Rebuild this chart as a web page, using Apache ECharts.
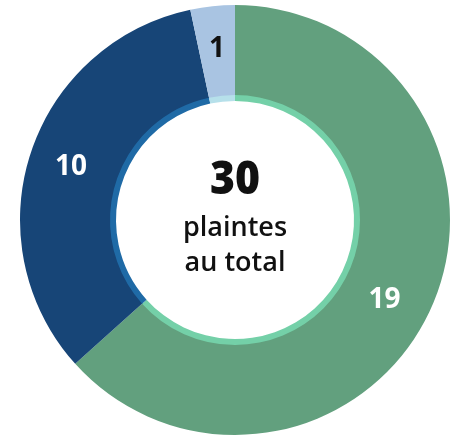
<!DOCTYPE html>
<html>
<head>
<meta charset="utf-8">
<script src="https://cdn.jsdelivr.net/npm/echarts@6/dist/echarts.min.js"></script>
<style>
html,body{margin:0;padding:0;background:#fff;}
#main{width:457px;height:440px;}
</style>
</head>
<body>
<div id="main"></div>
<script>
var categories = ['A', 'B', 'C'];
var values = [19, 10, 1];
var total = 30;
var centerLines = ['plaintes', 'au total'];

var mainColors = ['#62a07e', '#174577', '#a9c4e2'];
var ringColors = ['#74d0a8', '#1f6aa6', '#b6e0ea'];
var labelColors = ['#ffffff', '#ffffff', '#111111'];
var labelOffsets = [[-8, 10], [0, 0], [0, 1]];

window.onload = function () {
	var myChart = echarts.init(document.getElementById('main'));
	var outer = [], inner = [];
	for (var i = 0; i < values.length; i++) {
		outer.push({
			name: categories[i], value: values[i],
			itemStyle: {color: mainColors[i]},
			label: {color: labelColors[i], offset: labelOffsets[i]}
		});
		inner.push({
			name: categories[i], value: values[i],
			itemStyle: {color: ringColors[i]}
		});
	}
	myChart.setOption({
		animation: false,
		series: [{
			type: 'pie',
			center: [235, 220],
			radius: [124, 215],
			startAngle: 90,
			clockwise: true,
			silent: true,
			label: {
				position: 'inside',
				formatter: '{c}',
				fontFamily: 'Open Sans',
				fontWeight: 'bold',
				fontSize: 28
			},
			labelLine: {show: false},
			data: outer
		}, {
			type: 'pie',
			center: [235, 220],
			radius: [119, 125],
			startAngle: 90,
			clockwise: true,
			silent: true,
			label: {show: false},
			labelLine: {show: false},
			data: inner
		}],
		graphic: [{
			type: 'text',
			x: 235, y: 181,
			scaleX: 0.93,
			style: {
				text: String(total),
				fill: '#111',
				font: '800 46px "Open Sans"',
				align: 'center',
				verticalAlign: 'middle'
			}
		}, {
			type: 'text',
			x: 235, y: 228,
			style: {
				text: centerLines[0],
				fill: '#111',
				font: '600 27px "Open Sans"',
				align: 'center',
				verticalAlign: 'middle'
			}
		}, {
			type: 'text',
			x: 235, y: 263,
			style: {
				text: centerLines[1],
				fill: '#111',
				font: '600 27px "Open Sans"',
				align: 'center',
				verticalAlign: 'middle'
			}
		}]
	});
};
</script>
</body>
</html>
